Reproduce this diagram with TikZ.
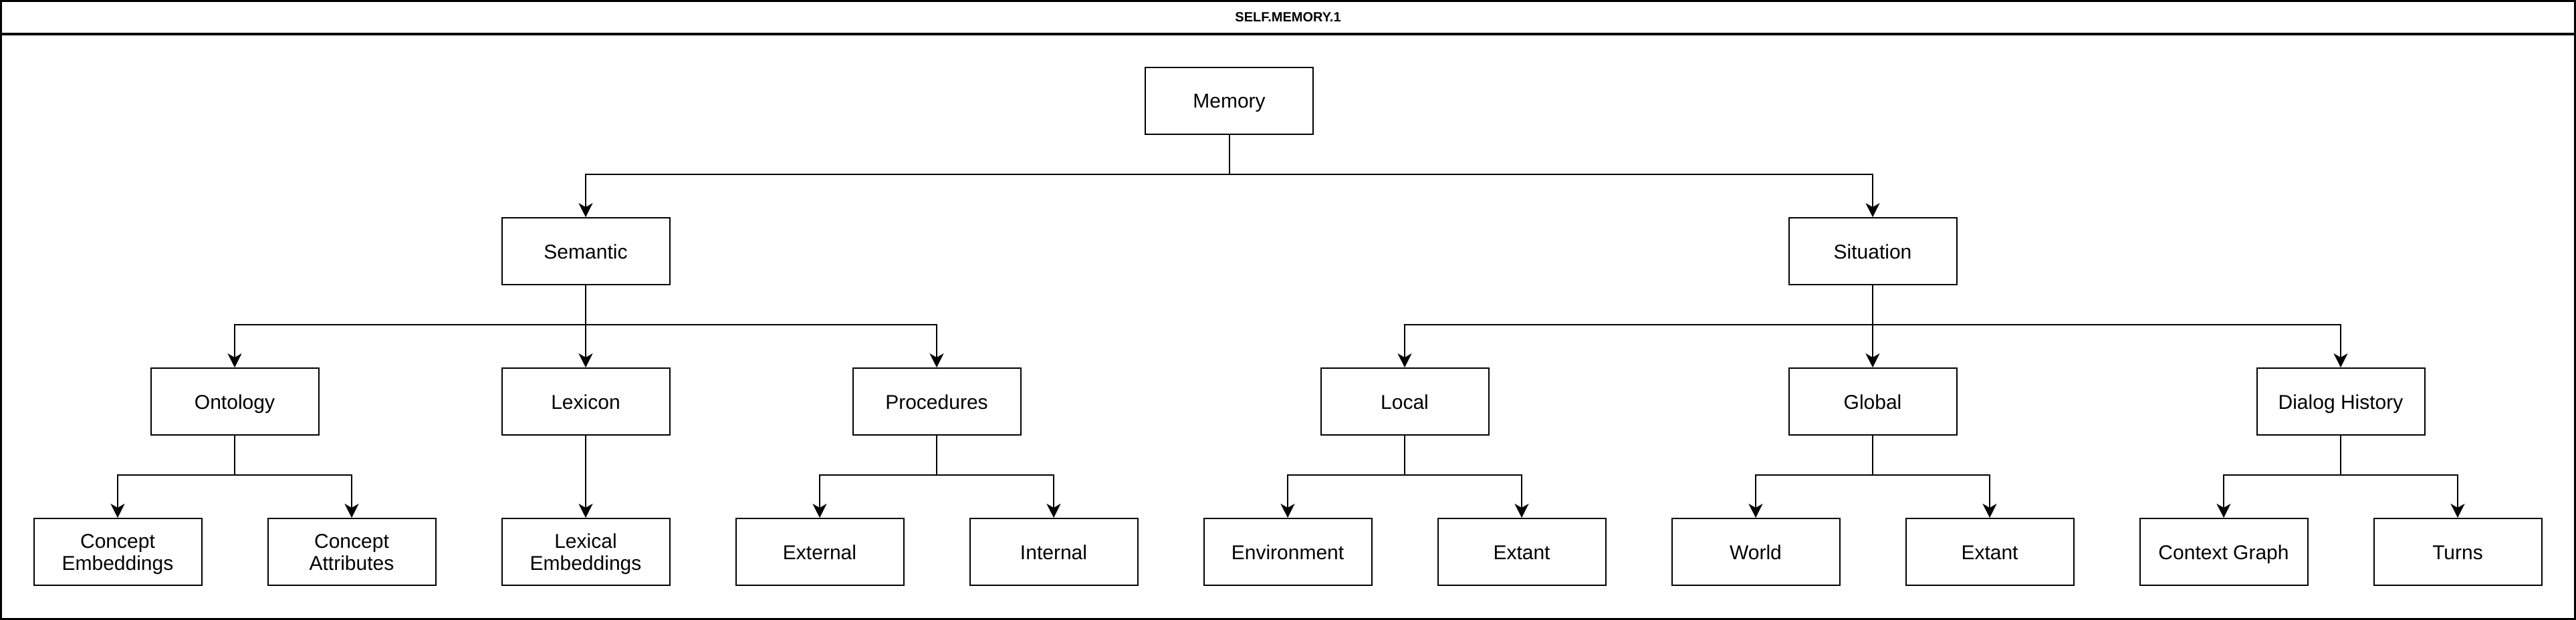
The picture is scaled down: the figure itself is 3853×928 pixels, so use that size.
\documentclass[tikz,border=0pt]{standalone}
\usepackage{fontspec}
\setmainfont{Liberation Sans}
\usetikzlibrary{arrows.meta}
\newcommand{\lstrut}{\rule[-8pt]{0pt}{38pt}}
\newcommand{\boxfont}{\fontsize{30}{33}\selectfont\setlength{\lineskiplimit}{-100pt}\setlength{\lineskip}{0pt}}
\tikzset{
  box/.style={draw=black, line width=2pt, minimum width=251pt, minimum height=100pt, inner sep=0pt, align=center, font=\boxfont},
  conn/.style={line width=2pt, -{Stealth[length=21pt,width=21pt,inset=6pt]}},
  plain/.style={line width=2pt}
}
\begin{document}
\begin{tikzpicture}[x=1pt,y=-1pt]
\useasboundingbox (0,0) rectangle (3853,928);
\draw[line width=3pt] (1.5,1.5) rectangle (3851.5,926.5);
\draw[line width=3.5pt] (1.5,51) -- (3851.5,51);
\node[font=\fontsize{20}{24}\selectfont\bfseries] (title) at (1926.5,26) {SELF.MEMORY.1};

\node[box] (mem) at (1838.5,151) {Memory\lstrut};
\node[box] (sem) at (876,376) {Semantic\lstrut};
\node[box] (sit) at (2801,376) {Situation\lstrut};
\node[box] (ont) at (351,601) {Ontology\lstrut};
\node[box] (lex) at (876,601) {Lexicon\lstrut};
\node[box] (proc) at (1401,601) {Procedures\lstrut};
\node[box] (loc) at (2101,601) {Local\lstrut};
\node[box] (glob) at (2801,601) {Global\lstrut};
\node[box] (dial) at (3501,601) {Dialog History\lstrut};

\node[box] (ce) at (176,826) {Concept\lstrut\\Embeddings\lstrut};
\node[box] (ca) at (526,826) {Concept\lstrut\\Attributes\lstrut};
\node[box] (le) at (876,826) {Lexical\lstrut\\Embeddings\lstrut};
\node[box] (ext) at (1226,826) {External\lstrut};
\node[box] (int) at (1576,826) {Internal\lstrut};
\node[box] (env) at (1926,826) {Environment\lstrut};
\node[box] (ex1) at (2276,826) {Extant\lstrut};
\node[box] (wor) at (2626,826) {World\lstrut};
\node[box] (ex2) at (2976,826) {Extant\lstrut};
\node[box] (cg) at (3326,826) {Context Graph\lstrut};
\node[box] (tu) at (3676,826) {Turns\lstrut};

\draw[conn] (mem.south) -- ++(0,59) -| (sem.north);
\draw[conn] (mem.south) -- ++(0,59) -| (sit.north);

\draw[conn] (sem.south) -- ++(0,59) -| (ont.north);
\draw[conn] (sem.south) -- (lex.north);
\draw[conn] (sem.south) -- ++(0,59) -| (proc.north);

\draw[conn] (sit.south) -- ++(0,59) -| (loc.north);
\draw[conn] (sit.south) -- (glob.north);
\draw[conn] (sit.south) -- ++(0,59) -| (dial.north);

\draw[conn] (ont.south) -- ++(0,59) -| (ce.north);
\draw[conn] (ont.south) -- ++(0,59) -| (ca.north);
\draw[conn] (lex.south) -- (le.north);
\draw[conn] (proc.south) -- ++(0,59) -| (ext.north);
\draw[conn] (proc.south) -- ++(0,59) -| (int.north);

\draw[conn] (loc.south) -- ++(0,59) -| (env.north);
\draw[conn] (loc.south) -- ++(0,59) -| (ex1.north);
\draw[conn] (glob.south) -- ++(0,59) -| (wor.north);
\draw[conn] (glob.south) -- ++(0,59) -| (ex2.north);
\draw[conn] (dial.south) -- ++(0,59) -| (cg.north);
\draw[conn] (dial.south) -- ++(0,59) -| (tu.north);
\end{tikzpicture}
\end{document}
